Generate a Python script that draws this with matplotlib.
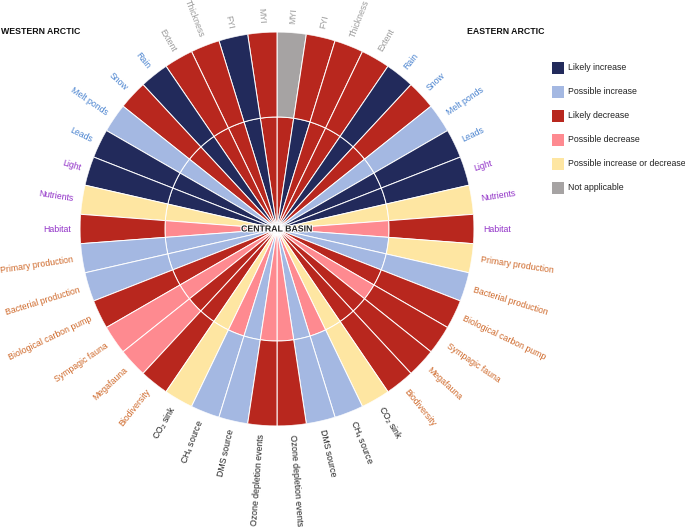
import numpy as np
import matplotlib
matplotlib.use('Agg')
import matplotlib.pyplot as plt
from matplotlib.patches import Rectangle
import matplotlib.patheffects as pe

plt.rcParams['font.family'] = ['Liberation Sans', 'DejaVu Sans']
plt.rcParams['mathtext.fontset'] = 'custom'
plt.rcParams['mathtext.rm'] = 'Liberation Sans'
plt.rcParams['mathtext.default'] = 'rm'

# variables, listed from the top (north) going round each half
variables = ['MYI', 'FYI', 'Thickness', 'Extent',
             'Rain', 'Snow', 'Melt ponds', 'Leads',
             'Light', 'Nutrients', 'Habitat',
             'Primary production', 'Bacterial production', 'Biological carbon pump',
             'Sympagic fauna', 'Megafauna', 'Biodiversity',
             'CO$_2$ sink', 'CH$_4$ source', 'DMS source', 'Ozone depletion events']
groups = ['ice'] * 4 + ['atmos'] * 4 + ['phys'] * 3 + ['bio'] * 6 + ['chem'] * 4

# expected change: LI likely increase, PI possible increase, LD likely decrease,
# PD possible decrease, PID possible increase or decrease, NA not applicable
central = ['LD', 'LI', 'LD', 'LD', 'LI', 'LD', 'PI', 'LI', 'LI', 'PID', 'PD',
           'PI', 'PI', 'LD', 'PD', 'LD', 'LD', 'PID', 'PD', 'PI', 'PD']
western = ['LD', 'LI', 'LD', 'LD', 'LI', 'LD', 'PI', 'LI', 'LI', 'PID', 'LD',
           'PI', 'PI', 'LD', 'PD', 'PD', 'LD', 'PID', 'PI', 'PI', 'LD']
eastern = ['NA', 'LD', 'LD', 'LD', 'LI', 'LD', 'PI', 'LI', 'LI', 'PID', 'LD',
           'PID', 'PI', 'LD', 'LD', 'LD', 'LD', 'PID', 'PI', 'PI', 'LD']

legend_codes = ['LI', 'PI', 'LD', 'PD', 'PID', 'NA']
legend_labels = ['Likely increase', 'Possible increase', 'Likely decrease',
                 'Possible decrease', 'Possible increase or decrease', 'Not applicable']

colors = {'LI': '#222a5b', 'PI': '#a4b8e2', 'LD': '#b8271e', 'PD': '#fe8a90',
          'PID': '#fee6a2', 'NA': '#a6a3a3'}
label_colors = {'ice': '#9c9c9c', 'atmos': '#4a83cf', 'phys': '#9233c8',
                'bio': '#cf6a2c', 'chem': '#222222'}

W, H = 685, 527
fig = plt.figure(figsize=(W / 100, H / 100), dpi=100)

cx, cy, R = 277, 229, 197
ax = fig.add_axes([(cx - R) / W, (H - cy - R) / H, 2 * R / W, 2 * R / H],
                  projection='polar')
ax.set_theta_zero_location('N')
ax.set_theta_direction(-1)
ax.set_ylim(0, 1)
ax.axis('off')

n = len(variables)
width = np.pi / n
r_inner = 112 / 197
fs = 6.3

for i in range(n):
    for side, outer in ((1, eastern), (-1, western)):
        theta = side * (i + 0.5) * width
        ax.bar(theta, r_inner, width=width, bottom=0, color=colors[central[i]],
               edgecolor='white', linewidth=0.7)
        ax.bar(theta, 1 - r_inner, width=width, bottom=r_inner,
               color=colors[outer[i]], edgecolor='white', linewidth=0.7)
        deg = np.degrees((i + 0.5) * width)
        if side == 1:
            rot, ha = 90 - deg, 'left'
        else:
            rot, ha = deg - 90, 'right'
        ax.text(theta, 1.045, variables[i], rotation=rot, rotation_mode='anchor',
                ha=ha, va='center', fontsize=fs, color=label_colors[groups[i]])

ax.text(0, 0, 'CENTRAL BASIN', ha='center', va='center', fontsize=fs,
        fontweight='bold', color='#222222',
        path_effects=[pe.withStroke(linewidth=1.5, foreground='white')])

fig.text(1 / W, 1 - 31 / H, 'WESTERN ARCTIC', ha='left', va='center',
         fontsize=fs, fontweight='bold', color='#111111')
fig.text(467 / W, 1 - 31 / H, 'EASTERN ARCTIC', ha='left', va='center',
         fontsize=fs, fontweight='bold', color='#111111')

# legend
for k, (code, lab) in enumerate(zip(legend_codes, legend_labels)):
    yc = 67.7 + 24 * k
    fig.patches.append(Rectangle((551.7 / W, 1 - (yc + 6) / H), 12 / W, 12 / H,
                                 transform=fig.transFigure, facecolor=colors[code],
                                 edgecolor='none'))
    fig.text(568 / W, 1 - yc / H, lab, ha='left', va='center', fontsize=fs,
             color='#222222')

fig.savefig('out.png', dpi=100)
